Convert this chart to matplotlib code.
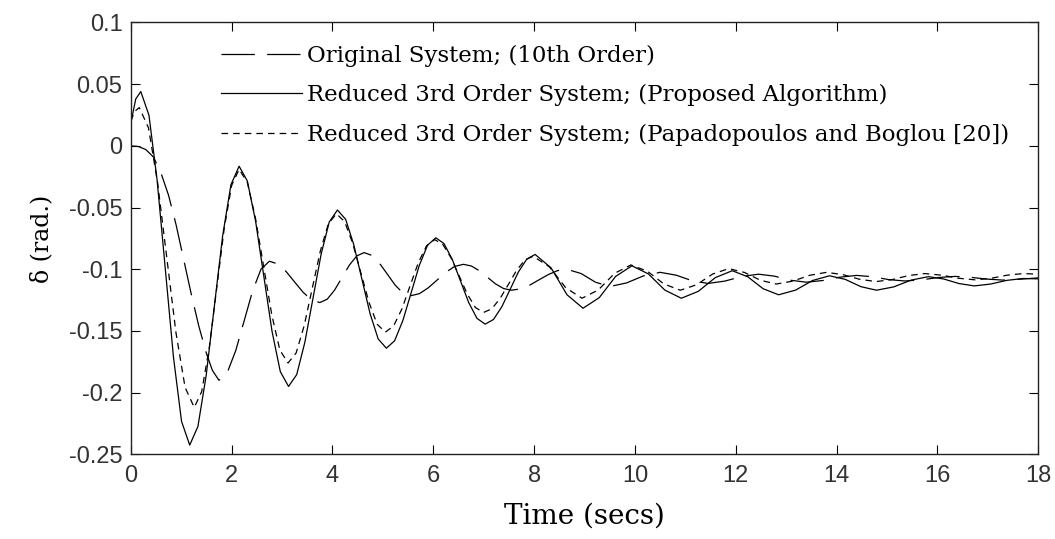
import matplotlib
matplotlib.use('Agg')
import matplotlib.pyplot as plt

# Data (time in s, delta in rad)
t_orig = [0.0, 0.15, 0.3, 0.45, 0.6, 0.75, 0.9, 1.05, 1.2, 1.35, 1.5, 1.62,
          1.75, 1.917, 2.083, 2.25, 2.417, 2.583, 2.75, 2.917, 3.083, 3.25, 3.417, 3.583,
          3.75, 3.897, 4.043, 4.19, 4.337, 4.483, 4.63, 4.783, 4.937, 5.09, 5.243, 5.397,
          5.55, 5.725, 5.9, 6.075, 6.25, 6.425, 6.6, 6.758, 6.917, 7.075, 7.233, 7.392,
          7.55, 7.733, 7.917, 8.1, 8.283, 8.467, 8.65, 8.933, 9.217, 9.5, 9.833, 10.167,
          10.5, 10.817, 11.133, 11.45, 11.783, 12.117, 12.45, 12.767, 13.083, 13.4, 13.733,
          14.067, 14.4, 14.717, 15.033, 15.35, 15.683, 16.017, 16.35, 16.667, 16.983,
          17.3, 17.65, 18.0]
v_orig = [0.0, -0.0005, -0.003, -0.009, -0.022, -0.040, -0.064, -0.092, -0.12, -0.146, -0.168, -0.182,
          -0.19, -0.1835, -0.1659, -0.1418, -0.1176, -0.1, -0.0935, -0.0957, -0.1019, -0.1103, -0.1186, -0.1248,
          -0.127, -0.1243, -0.1169, -0.1068, -0.0966, -0.0892, -0.0865, -0.0888, -0.0953, -0.104, -0.1128, -0.1192,
          -0.1215, -0.1198, -0.1151, -0.1088, -0.1024, -0.0977, -0.096, -0.0974, -0.1013, -0.1065, -0.1118, -0.1156,
          -0.117, -0.1159, -0.1128, -0.1085, -0.1043, -0.1011, -0.1, -0.1035, -0.1105, -0.114, -0.1111, -0.1054,
          -0.1025, -0.1048, -0.1093, -0.1115, -0.1096, -0.1059, -0.104, -0.1056, -0.1089, -0.1105, -0.1091,
          -0.1064, -0.105, -0.1061, -0.1084, -0.1095, -0.1086, -0.1067, -0.1058, -0.1066, -0.108,
          -0.1088, -0.108, -0.107]

t_prop = [0.0, 0.1, 0.2, 0.362, 0.523, 0.685, 0.847, 1.008, 1.17, 1.333, 1.497, 1.66, 1.823, 1.987,
          2.15, 2.313, 2.477, 2.64, 2.803, 2.967, 3.13, 3.292, 3.453, 3.615, 3.777, 3.938,
          4.1, 4.262, 4.423, 4.585, 4.747, 4.908, 5.07, 5.233, 5.397, 5.56, 5.723, 5.887,
          6.05, 6.213, 6.377, 6.54, 6.703, 6.867, 7.03, 7.195, 7.36, 7.525, 7.69, 7.855,
          8.02, 8.337, 8.653, 8.97, 9.293, 9.617, 9.94, 10.267, 10.593, 10.92, 11.257, 11.593,
          11.93, 12.237, 12.543, 12.85, 13.187, 13.523, 13.86, 14.17, 14.48, 14.79, 15.133, 15.477,
          15.82, 16.123, 16.427, 16.73, 17.053, 17.377, 17.7, 18.0]
v_prop = [0.018, 0.038, 0.044, 0.0248, -0.0276, -0.0993, -0.1709, -0.2233, -0.2425, -0.2274, -0.186, -0.1295, -0.073, -0.0316,
          -0.0165, -0.0285, -0.0611, -0.1058, -0.1504, -0.183, -0.195, -0.1854, -0.1593, -0.1235, -0.0877, -0.0616,
          -0.052, -0.0595, -0.080, -0.108, -0.136, -0.1565, -0.164, -0.158, -0.1416, -0.1193, -0.0969, -0.0805,
          -0.0745, -0.0792, -0.092, -0.1095, -0.127, -0.1398, -0.1445, -0.1407, -0.1304, -0.1163, -0.1021, -0.0918,
          -0.088, -0.0989, -0.1207, -0.1316, -0.123, -0.1058, -0.0972, -0.1038, -0.1169, -0.1235, -0.1179, -0.1068,
          -0.1012, -0.1061, -0.1158, -0.1207, -0.1169, -0.1091, -0.1053, -0.1082, -0.1141, -0.117, -0.1143, -0.1088,
          -0.106, -0.1079, -0.1116, -0.1135, -0.112, -0.109, -0.1075, -0.1078]

t_papa = [0.0, 0.08, 0.17, 0.352, 0.533, 0.715, 0.897, 1.078, 1.26, 1.408, 1.557, 1.705, 1.853, 2.002,
          2.15, 2.312, 2.473, 2.635, 2.797, 2.958, 3.12, 3.28, 3.44, 3.6, 3.76, 3.92,
          4.08, 4.242, 4.403, 4.565, 4.727, 4.888, 5.05, 5.213, 5.377, 5.54, 5.703, 5.867,
          6.03, 6.192, 6.353, 6.515, 6.677, 6.838, 7.0, 7.163, 7.327, 7.49, 7.653, 7.817,
          7.98, 8.303, 8.627, 8.95, 9.273, 9.597, 9.92, 10.247, 10.573, 10.9, 11.22, 11.54,
          11.86, 12.173, 12.487, 12.8, 13.133, 13.467, 13.8, 14.127, 14.453, 14.78, 15.103, 15.427,
          15.75, 16.083, 16.417, 16.75, 17.067, 17.383, 17.7, 18.0]
v_papa = [0.02, 0.028, 0.031, 0.0147, -0.0298, -0.0905, -0.1513, -0.1957, -0.212, -0.1991, -0.1638, -0.1155, -0.0673, -0.032,
          -0.019, -0.0295, -0.0583, -0.0975, -0.1368, -0.1655, -0.176, -0.1679, -0.1458, -0.1155, -0.0853, -0.0631,
          -0.055, -0.0614, -0.079, -0.103, -0.127, -0.1446, -0.151, -0.146, -0.1323, -0.1135, -0.0948, -0.081,
          -0.076, -0.080, -0.0908, -0.1055, -0.1203, -0.1311, -0.135, -0.132, -0.1236, -0.1123, -0.1009, -0.0925,
          -0.0895, -0.098, -0.115, -0.1235, -0.1168, -0.1033, -0.0965, -0.1016, -0.1119, -0.117, -0.1126, -0.1039,
          -0.0995, -0.1026, -0.1089, -0.112, -0.1096, -0.1049, -0.1025, -0.1044, -0.1081, -0.110, -0.1084, -0.1051,
          -0.1035, -0.1048, -0.1073, -0.1086, -0.1073, -0.1048, -0.1035, -0.104]

labels = ['Original System; (10th Order)',
          'Reduced 3rd Order System; (Proposed Algorithm)',
          'Reduced 3rd Order System; (Papadopoulos and Boglou [20])']
x_ticks = [0, 2, 4, 6, 8, 10, 12, 14, 16, 18]
y_ticks = [0.1, 0.05, 0, -0.05, -0.1, -0.15, -0.2, -0.25]
y_tick_labels = ['0.1', '0.05', '0', '-0.05', '-0.1', '-0.15', '-0.2', '-0.25']

serif = 'DejaVu Serif'
sans = 'Liberation Sans'

fig = plt.figure(figsize=(10.55, 5.39), dpi=100)
ax = fig.add_axes([0.1239, 0.1571, 0.8603, 0.8012])

ax.plot(t_orig, v_orig, color='black', lw=0.9, dashes=(26.7, 9.8), label=labels[0])
ax.plot(t_prop, v_prop, color='black', lw=0.9, label=labels[1])
ax.plot(t_papa, v_papa, color='black', lw=0.9, dashes=(5.3, 4), label=labels[2])

ax.set_xlim(0, 18)
ax.set_ylim(-0.25, 0.1)
ax.set_xticks(x_ticks)
ax.set_xticklabels([str(x) for x in x_ticks])
ax.set_yticks(y_ticks)
ax.set_yticklabels(y_tick_labels)
ax.tick_params(direction='in', top=True, right=True, length=6.2, width=0.8,
               labelsize=17, pad=6, colors='black')
ax.tick_params(axis='x', pad=8)
for lab in ax.get_xticklabels() + ax.get_yticklabels():
    lab.set_family(sans)
    lab.set_color('#333333')
for sp in ax.spines.values():
    sp.set_linewidth(1.0)
    sp.set_color('#222222')

ax.set_xlabel('Time (secs)', family=serif, fontsize=20)
ax.xaxis.set_label_coords(0.5, -0.1127)
ax.set_ylabel('δ (rad.)', family=serif, fontsize=17)
ax.yaxis.set_label_coords(-0.0856, 0.5)

ax.legend(loc='upper left', bbox_to_anchor=(0.099, 0.949), frameon=False,
          borderpad=0, borderaxespad=0, handlelength=3.54, handletextpad=0.22,
          labelspacing=0.765, prop={'family': serif, 'size': 16.5})

fig.savefig('out.png', dpi=100)
